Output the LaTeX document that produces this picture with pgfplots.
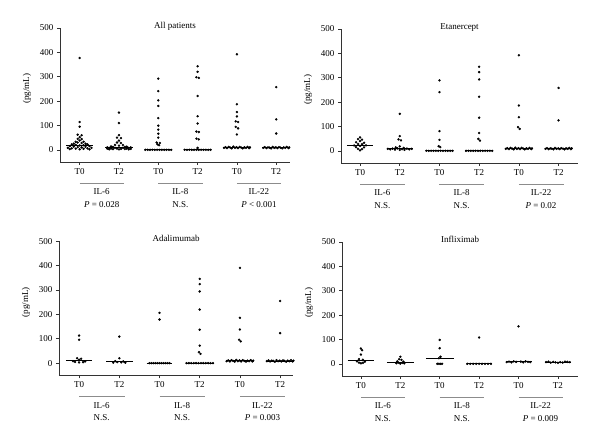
\documentclass[border=0pt]{standalone}
\usepackage{pgfplots}
\pgfplotsset{compat=1.18}
\usepackage{fontspec}
\setmainfont{Liberation Serif}
\pgfplotsset{
  panel/.style={scale only axis, axis lines=left,
    axis line style={-, black!80, line width=0.6pt},
    ymin=-50, ymax=500, ytick={0,100,...,500},
    xtick={0,...,5}, xticklabels={T0,T2,T0,T2,T0,T2},
    tick align=outside, major tick length=3pt,
    tick style={black!80, line width=0.6pt},
    clip=false, height=134pt,
    every tick label/.append style={font=\fontsize{9}{10}\selectfont},
    /pgf/number format/assume math mode=true,
    anchor=south west},
  dots/.style={only marks, mark=*, mark size=1pt, black},
  med/.style={black, line width=0.8pt, no marks},
}
\newcommand{\extras}[4]{%
  \node[anchor=base] at (rel axis cs:0.5,1) {#1};
  \node[rotate=90] at ([xshift=-33pt]rel axis cs:0,0.545) {(pg/mL)};
  \draw[black!45, line width=0.8pt] ([yshift=-21pt]axis cs:0,-50) -- ([yshift=-21pt]axis cs:1.13,-50);
  \draw[black!45, line width=0.8pt] ([yshift=-21pt]axis cs:2,-50) -- ([yshift=-21pt]axis cs:3.13,-50);
  \draw[black!45, line width=0.8pt] ([yshift=-21pt]axis cs:4,-50) -- ([yshift=-21pt]axis cs:5.13,-50);
  \node[anchor=base] at ([yshift=-33pt]axis cs:0.56,-50) {IL-6};
  \node[anchor=base] at ([yshift=-33pt]axis cs:2.56,-50) {IL-8};
  \node[anchor=base] at ([yshift=-33pt]axis cs:4.56,-50) {IL-22};
  \node[anchor=base] at ([yshift=-45.5pt]axis cs:0.56,-50) {#2};
  \node[anchor=base] at ([yshift=-45.5pt]axis cs:2.56,-50) {#3};
  \node[anchor=base] at ([yshift=-45.5pt]axis cs:4.56,-50) {#4};
}
\begin{document}
\begin{tikzpicture}[font=\fontsize{9}{10}\selectfont]
\useasboundingbox (0,0) rectangle (600pt,444pt);

% ---------------- All patients
\begin{axis}[panel, at={(60pt,282pt)}, width=230pt, xmin=-0.5, xmax=5.35]
\addplot[dots] coordinates {(0,377)(0,114)(0,95)(-0.05,62)(0.05,60)(0,52)(-0.05,45)(0.05,44)(0,38)(-0.1,33)(0.1,33)(-0.05,30)(0.05,28)(-0.15,25)(0.15,25)(-0.2,22)(0.2,22)(-0.1,20)(0.1,19)(0,18)(-0.25,15)(0.25,15)(-0.15,13)(0.15,12)(-0.05,11)(0.05,10)(-0.3,8)(0.3,8)(-0.2,6)(0.2,6)(-0.1,5)(0.1,4)(0,2)(-0.25,3)(0.25,2)};
\addplot[med] coordinates {(-0.35,20)(0.35,20)};
\addplot[dots] coordinates {(1,153)(1,110)(1,60)(0.95,50)(1.05,48)(1,38)(0.95,30)(1.05,28)(0.9,20)(1.1,20)(1,17)(0.8,14)(0.85,12)(1.15,12)(1.2,13)(0.7,10)(1.3,10)(0.75,8)(0.9,8)(1.1,8)(1.25,8)(0.7,5)(0.8,5)(0.95,5)(1.05,4)(1.2,5)(1.3,4)(0.85,3)(1.15,3)(1,2)(0.75,2)(1.25,2)};
\addplot[med] coordinates {(0.65,8)(1.35,8)};
\addplot[dots] coordinates {(2,292)(2,241)(2,203)(2,180)(2,130)(2,99)(2,83)(2,66)(2,50)(1.96,30)(2.04,28)(1.98,22)(2.02,19)(1.67,0)(1.73,0)(1.79,0)(1.85,0)(1.91,0)(1.97,0)(2.03,0)(2.09,0)(2.15,0)(2.21,0)(2.27,0)(2.33,0)};
\addplot[med] coordinates {(1.65,0)(2.35,0)};
\addplot[dots] coordinates {(3,343)(3,320)(2.97,298)(3.03,295)(3,221)(3,138)(3,108)(2.97,75)(3.03,73)(2.97,46)(3.03,43)(3,8)(2.67,0)(2.73,0)(2.79,0)(2.85,0)(2.91,0)(2.97,0)(3.03,0)(3.09,0)(3.15,0)(3.21,0)(3.27,0)(3.33,0)};
\addplot[med] coordinates {(2.65,0)(3.35,0)};
\addplot[dots] coordinates {(4,392)(4,187)(4,155)(4,137)(3.97,117)(4.03,114)(3.97,94)(4.03,88)(4,63)(3.67,8)(3.71,11)(3.75,7)(3.79,12)(3.83,9)(3.87,6)(3.91,13)(3.95,8)(3.99,11)(4.03,7)(4.07,12)(4.11,9)(4.15,6)(4.19,10)(4.23,8)(4.27,12)(4.31,7)(4.33,10)};
\addplot[med] coordinates {(3.65,10)(4.35,10)};
\addplot[dots] coordinates {(5,257)(5,125)(5,67)(4.67,8)(4.71,11)(4.75,7)(4.79,10)(4.83,9)(4.87,6)(4.91,12)(4.95,8)(4.99,10)(5.03,7)(5.07,11)(5.11,9)(5.15,6)(5.19,10)(5.23,8)(5.27,12)(5.31,7)(5.33,10)};
\addplot[med] coordinates {(4.65,9)(5.35,9)};
\extras{All patients}{\textit{P} = 0.028}{N.S.}{\textit{P} {\textless} 0.001}
\end{axis}

% ---------------- Etanercept
\begin{axis}[panel, at={(341pt,281pt)}, width=237pt, xmin=-0.48, xmax=5.49]
\addplot[dots] coordinates {(0,55)(-0.05,48)(0.05,46)(0,40)(-0.1,35)(0.1,33)(-0.05,28)(0.05,27)(-0.15,22)(0.15,22)(0,20)(-0.1,15)(0.1,14)(-0.05,8)(0.05,7)(0,2)};
\addplot[med] coordinates {(-0.33,22)(0.33,22)};
\addplot[dots] coordinates {(1,152)(1,60)(0.97,47)(1.03,43)(1,18)(0.9,14)(1.1,12)(0.7,8)(0.76,6)(0.82,9)(0.88,5)(0.94,10)(1.06,7)(1.12,4)(1.18,9)(1.24,6)(1.3,8)(1,4)};
\addplot[med] coordinates {(0.67,10)(1.33,10)};
\addplot[dots] coordinates {(2,289)(2,241)(2,81)(2,45)(1.98,19)(2.02,15)(1.67,0)(1.73,0)(1.79,0)(1.85,0)(1.91,0)(1.97,0)(2.03,0)(2.09,0)(2.15,0)(2.21,0)(2.27,0)(2.33,0)};
\addplot[med] coordinates {(1.65,0)(2.35,0)};
\addplot[dots] coordinates {(3,345)(3,323)(3,293)(3,222)(3,136)(3,73)(2.98,49)(3.02,42)(2.67,0)(2.73,0)(2.79,0)(2.85,0)(2.91,0)(2.97,0)(3.03,0)(3.09,0)(3.15,0)(3.21,0)(3.27,0)(3.33,0)};
\addplot[med] coordinates {(2.65,0)(3.35,0)};
\addplot[dots] coordinates {(4,392)(4,186)(4,138)(3.98,97)(4.02,90)(3.67,8)(3.71,11)(3.75,7)(3.79,12)(3.83,9)(3.87,6)(3.91,13)(3.95,8)(3.99,11)(4.03,7)(4.07,12)(4.11,9)(4.15,6)(4.19,10)(4.23,8)(4.27,12)(4.31,7)(4.33,10)};
\addplot[med] coordinates {(3.65,10)(4.35,10)};
\addplot[dots] coordinates {(5,258)(5,125)(4.67,8)(4.71,11)(4.75,7)(4.79,10)(4.83,9)(4.87,6)(4.91,12)(4.95,8)(4.99,10)(5.03,7)(5.07,11)(5.11,9)(5.15,6)(5.19,10)(5.23,8)(5.27,12)(5.31,7)(5.33,10)};
\addplot[med] coordinates {(4.65,9)(5.35,9)};
\extras{Etanercept}{N.S.}{N.S.}{\textit{P} = 0.02}
\end{axis}

% ---------------- Adalimumab
\begin{axis}[panel, at={(59pt,68.7pt)}, width=234pt, xmin=-0.5, xmax=5.32]
\addplot[dots] coordinates {(0,113)(0,96)(-0.05,20)(0.05,18)(0,14)(-0.15,8)(0.15,7)(-0.1,5)(0.1,4)(0,3)};
\addplot[med] coordinates {(-0.33,10)(0.33,10)};
\addplot[dots] coordinates {(1,109)(1,20)(0.9,8)(1.1,7)(0.95,4)(1.05,3)(0.85,2)(1.15,2)};
\addplot[med] coordinates {(0.67,8)(1.33,8)};
\addplot[dots] coordinates {(2,206)(2,179)(1.75,0)(1.8,0)(1.85,0)(1.9,0)(1.95,0)(2,0)(2.05,0)(2.1,0)(2.15,0)(2.2,0)(2.25,0)};
\addplot[med] coordinates {(1.68,0)(2.32,0)};
\addplot[dots] coordinates {(3,346)(3,324)(3,294)(3,220)(3,137)(3,72)(2.98,45)(3.02,38)(2.67,0)(2.73,0)(2.79,0)(2.85,0)(2.91,0)(2.97,0)(3.03,0)(3.09,0)(3.15,0)(3.21,0)(3.27,0)(3.33,0)};
\addplot[med] coordinates {(2.65,0)(3.35,0)};
\addplot[dots] coordinates {(4,391)(4,186)(4,138)(3.98,96)(4.02,89)(3.67,8)(3.71,11)(3.75,7)(3.79,12)(3.83,9)(3.87,6)(3.91,13)(3.95,8)(3.99,11)(4.03,7)(4.07,12)(4.11,9)(4.15,6)(4.19,10)(4.23,8)(4.27,12)(4.31,7)(4.33,10)};
\addplot[med] coordinates {(3.65,10)(4.35,10)};
\addplot[dots] coordinates {(5,255)(5,123)(4.67,8)(4.71,11)(4.75,7)(4.79,10)(4.83,9)(4.87,6)(4.91,12)(4.95,8)(4.99,10)(5.03,7)(5.07,11)(5.11,9)(5.15,6)(5.19,10)(5.23,8)(5.27,12)(5.31,7)(5.33,10)};
\addplot[med] coordinates {(4.65,9)(5.35,9)};
\extras{Adalimumab}{N.S.}{N.S.}{\textit{P} = 0.003}
\end{axis}

% ---------------- Infliximab
\begin{axis}[panel, at={(342pt,68pt)}, width=236pt, xmin=-0.48, xmax=5.51]
\addplot[dots] coordinates {(0,63)(0.03,56)(0,38)(-0.05,19)(0.05,17)(-0.1,10)(0.1,9)(-0.05,5)(0.05,4)(0,2)};
\addplot[med] coordinates {(-0.34,13)(0.34,13)};
\addplot[dots] coordinates {(1,29)(0.97,19)(1.03,16)(0.92,10)(1.08,9)(0.95,5)(1.05,4)(0.9,2)(1.1,2)(1,1)};
\addplot[med] coordinates {(0.66,6)(1.34,6)};
\addplot[dots] coordinates {(2,98)(2,64)(2.02,29)(1.98,23)(1.94,0)(1.98,0)(2.02,0)(2.06,0)};
\addplot[med] coordinates {(1.65,23)(2.35,23)};
\addplot[dots] coordinates {(3,108)(2.7,0)(2.775,0)(2.85,0)(2.925,0)(3,0)(3.075,0)(3.15,0)(3.225,0)(3.3,0)};
\addplot[med] coordinates {(2.68,0)(3.32,0)};
\addplot[dots] coordinates {(4,154)(3.7,7)(3.76,9)(3.82,6)(3.88,10)(3.94,8)(4.06,9)(4.12,6)(4.18,10)(4.24,8)(4.3,7)};
\addplot[med] coordinates {(3.67,8)(4.33,8)};
\addplot[dots] coordinates {(4.7,7)(4.76,9)(4.82,5)(4.88,8)(4.94,6)(5,4)(5.06,7)(5.12,5)(5.18,9)(5.24,8)(5.3,7)};
\addplot[med] coordinates {(4.67,7)(5.33,7)};
\extras{Infliximab}{N.S.}{N.S.}{\textit{P} = 0.009}
\end{axis}
\end{tikzpicture}
\end{document}
